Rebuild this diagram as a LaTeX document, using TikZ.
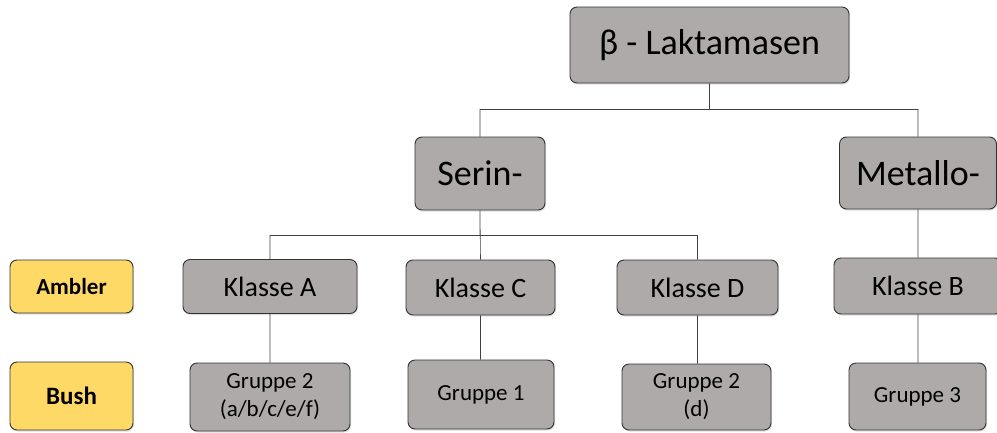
\documentclass[tikz,border=0pt]{standalone}
\usepackage{fontspec}
\setmainfont{Carlito}
\usetikzlibrary{positioning, shadows}

\definecolor{boxgray}{HTML}{AEAAAA}
\definecolor{boxyellow}{HTML}{FFD966}

\begin{document}
\begin{tikzpicture}[x=1pt, y=-1pt]


        % Setup the style for the boxes
        \tikzset{box style/.style={draw=black!80,
                                   line width=0.9pt,
                                   rounded corners=7pt,
                                   fill=boxgray,
                                   align=center,
                                   inner sep=0pt,
                                   drop shadow={opacity=0.25, shadow xshift=1pt, shadow yshift=-1.5pt}},
                 side style/.style={box style, fill=boxyellow,
                                    font=\fontsize{23}{28}\selectfont\bfseries},
                 link style/.style={draw=black!75, line width=0.6pt}}

\useasboundingbox (0,0) rectangle (997,432);

% Add the boxes
\node[box style, minimum width=279pt, minimum height=76pt,
      font=\fontsize{36}{40}\selectfont] at (709.5,45) (top) {β - Laktamasen};

\node[box style, minimum width=130pt, minimum height=73pt,
      font=\fontsize{36}{40}\selectfont] at (480,173.5) (serin) {Serin-};
\node[box style, minimum width=157pt, minimum height=72pt,
      font=\fontsize{36}{40}\selectfont] at (918,173) (metallo) {Metallo-};

\node[box style, minimum width=174pt, minimum height=54pt,
      font=\fontsize{28}{32}\selectfont] at (270,286.5) (klA) {Klasse A};
\node[box style, minimum width=149pt, minimum height=55pt,
      font=\fontsize{28}{32}\selectfont] at (480.5,287.5) (klC) {Klasse C};
\node[box style, minimum width=161pt, minimum height=55pt,
      font=\fontsize{28}{32}\selectfont] at (697.5,287.5) (klD) {Klasse D};
\node[box style, minimum width=168pt, minimum height=56pt,
      font=\fontsize{28}{32}\selectfont] at (918,286) (klB) {Klasse B};

\node[box style, minimum width=160pt, minimum height=68pt,
      font=\fontsize{23}{28}\selectfont] at (270,397) (grA) {Gruppe 2\\(a/b/c/e/f)};
\node[box style, minimum width=146pt, minimum height=69pt,
      font=\fontsize{23}{28}\selectfont] at (481,394.5) (grC) {Gruppe 1};
\node[box style, minimum width=149pt, minimum height=66pt,
      font=\fontsize{23}{28}\selectfont] at (696.5,397) (grD) {Gruppe 2\\(d)};
\node[box style, minimum width=137pt, minimum height=67pt,
      font=\fontsize{23}{28}\selectfont] at (917.5,396.5) (grB) {Gruppe 3};

\node[side style, minimum width=123pt, minimum height=53pt] at (71.5,286.5) (ambler) {Ambler};
\node[side style, minimum width=123pt, minimum height=68pt,
      font=\fontsize{25}{28}\selectfont\bfseries] at (71.5,396) (bush) {Bush};

	 \draw[link style]
	  (top.south) -- ++(0,26) -| (serin.north)
		(top.south) -- ++(0,26) -| (metallo.north)
		(serin.south) -- ++(0,25) -| (klA.north)
		(serin.south) -- ++(0,25) -| (klD.north)
		(serin.south) -- (klC.north)
		(metallo.south) -- (metallo.south |- klB.north)
		(klA.south) -- (klA.south |- grA.north)
		(klC.south) -- (klC.south |- grC.north)
		(klD.south) -- (klD.south |- grD.north)
		(klB.south) -- (klB.south |- grB.north);
\end{tikzpicture}
\end{document}
